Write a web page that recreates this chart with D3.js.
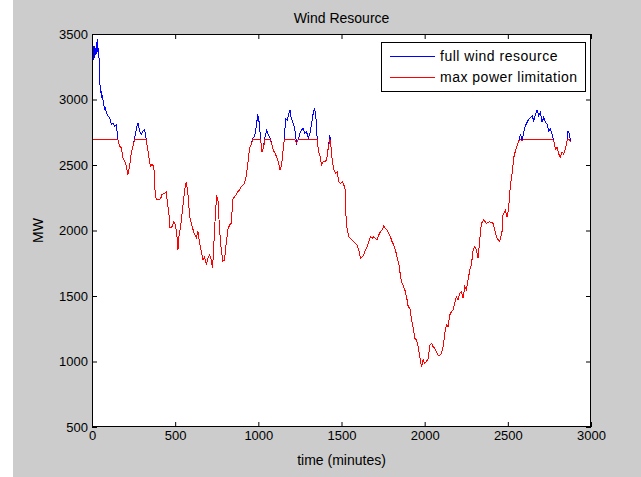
<!DOCTYPE html>
<html>

<head>
  <title>Wind Resource</title>
</head>

<style>
  body,
  html {
    margin: 0;
    padding: 0;
    background: #fff;
  }

  #svg text {
    font-family: "Liberation Sans", Arial, sans-serif;
    fill: #000;
  }
</style>

<body>

  <svg id="svg" width="641" height="477"></svg>

  <script src="https://d3js.org/d3.v7.min.js"></script>
  <script>

    // values (minutes, MW)
    const minutes = [
      0, 4, 8, 12, 16, 20, 24, 28, 32, 36, 40, 44, 48, 52, 56, 60, 62, 68, 72, 76, 80, 86, 96, 106, 116, 126, 136, 146,
      156, 166, 176, 186, 196, 206, 216, 226, 236, 246, 256, 266, 276, 286, 296, 306, 316, 326, 332, 341, 351, 361,
      371, 377, 380, 391, 403, 413, 421, 437, 447, 453, 461, 469, 481, 491, 501, 509, 517, 523, 533, 543, 557, 567,
      577, 587, 597, 607, 617, 627, 637, 647, 657, 667, 677, 687, 697, 707, 717, 725, 733, 741, 749, 757, 767, 777,
      787, 797, 807, 817, 827, 837, 847, 857, 867, 877, 887, 897, 907, 917, 927, 937, 947, 957, 967, 977, 987, 997,
      1006, 1014, 1022, 1030, 1040, 1050, 1060, 1070, 1080, 1090, 1100, 1110, 1120, 1130, 1140, 1150, 1156, 1164,
      1174, 1184, 1190, 1198, 1210, 1220, 1230, 1240, 1250, 1260, 1270, 1280, 1290, 1300, 1310, 1320, 1330, 1338,
      1346, 1354, 1362, 1370, 1380, 1390, 1400, 1410, 1420, 1430, 1436, 1444, 1454, 1464, 1474, 1484, 1494, 1504,
      1514, 1522, 1526, 1534, 1544, 1554, 1564, 1574, 1584, 1594, 1604, 1614, 1624, 1634, 1644, 1654, 1664, 1674,
      1684, 1694, 1704, 1714, 1724, 1734, 1744, 1754, 1764, 1774, 1784, 1794, 1804, 1814, 1824, 1834, 1844, 1854,
      1861, 1871, 1881, 1891, 1901, 1911, 1921, 1931, 1941, 1951, 1961, 1971, 1981, 1991, 2001, 2011, 2021, 2031,
      2041, 2051, 2061, 2071, 2081, 2091, 2101, 2111, 2121, 2131, 2141, 2151, 2161, 2171, 2181, 2191, 2201, 2211,
      2221, 2231, 2241, 2251, 2261, 2271, 2281, 2291, 2301, 2311, 2321, 2331, 2341, 2355, 2371, 2391, 2411, 2421,
      2435, 2451, 2465, 2471, 2485, 2495, 2505, 2511, 2518, 2528, 2536, 2546, 2556, 2566, 2576, 2586, 2596, 2606,
      2616, 2626, 2636, 2646, 2656, 2666, 2676, 2686, 2696, 2706, 2716, 2726, 2736, 2746, 2756, 2766, 2776, 2786,
      2796, 2806, 2816, 2826, 2836, 2846, 2856, 2862, 2871, 2877
    ]

    const windMW = [
      3230, 3380, 3300, 3410, 3320, 3390, 3340, 3420, 3460, 3360, 3390, 3250, 3115, 3050, 3064, 3010, 3034, 2975, 2950,
      2924, 2940, 2899, 2873, 2860, 2809, 2822, 2796, 2809,
      2695, 2644, 2631, 2555, 2530, 2492, 2427, 2492, 2593, 2644, 2708, 2771, 2822, 2758, 2733, 2758, 2771, 2695, 2644,
      2568, 2492, 2504,
      2492, 2390, 2258, 2237, 2237, 2245, 2275, 2284, 2296, 2208, 2148, 2018, 2029, 2067, 2042, 1982, 1855, 1957, 2029,
      2148, 2310, 2373,
      2275, 2106, 2055, 2008, 1970, 1944, 1995, 1906, 1840, 1778, 1800, 1740, 1790, 1815, 1776, 1712, 1906, 2106, 2258,
      2237, 2006, 1855,
      1766, 1775, 1906, 2006, 2042, 2055, 2237, 2258, 2275, 2296, 2310, 2334, 2348, 2360, 2411, 2512, 2629, 2654, 2705,
      2716, 2792, 2885,
      2818, 2695, 2602, 2629, 2716, 2767, 2730, 2705, 2666, 2614, 2590, 2563, 2525, 2462, 2500, 2628, 2695, 2856,
      2843, 2895, 2920, 2856, 2818, 2767, 2666, 2695, 2742, 2767, 2780, 2742, 2754, 2705, 2742, 2818, 2895, 2933,
      2869, 2695, 2602, 2576, 2500, 2525, 2525, 2538, 2628, 2729, 2653, 2538, 2462, 2437, 2449, 2373, 2360, 2373,
      2348, 2310, 2131, 2004, 1953, 1940, 1928, 1915, 1902, 1890, 1851, 1788, 1800, 1813, 1851, 1876, 1915, 1953,
      1940, 1953, 1940, 1928, 1966, 1991, 2004, 2034, 2017, 2004, 1979, 1953, 1915, 1890, 1851, 1800, 1749, 1660,
      1609, 1580, 1546, 1495, 1419, 1406, 1317, 1254, 1177, 1164, 1113, 1037, 960, 1012, 986, 999, 1024, 1126,
      1139, 1113, 1100, 1075, 1049, 1049, 1062, 1113, 1215, 1278, 1266, 1355, 1380, 1393, 1444, 1495, 1469, 1520,
      1533, 1482, 1571, 1546, 1622, 1698, 1737, 1851, 1876, 1851, 1788, 1928, 2055, 2080, 2055, 2067, 2055, 2004,
      1940, 1915, 1991, 2118, 2156, 2106, 2169, 2280, 2368, 2457, 2559, 2610, 2648, 2686, 2737, 2686, 2750, 2801,
      2826, 2851, 2864, 2876, 2838, 2889, 2920, 2876, 2902, 2826, 2864, 2826, 2813, 2762, 2775, 2737, 2686, 2622,
      2635, 2584, 2559, 2597, 2584, 2622, 2686, 2762, 2737, 2673
    ]

    const capMW = 2695

    const xTicks = [0, 500, 1000, 1500, 2000, 2500, 3000]
    const yTicks = [500, 1000, 1500, 2000, 2500, 3000, 3500]
    const legendLabels = ['full wind resource', 'max power limitation']
    const seriesColors = ['#0000ff', '#ff0000']

    const svg = d3.select('#svg')

    // gray figure background
    svg.append('rect')
      .attr('x', 13).attr('y', 0)
      .attr('width', 628).attr('height', 477)
      .attr('fill', '#cccccc')

    const plotLeft = 92, plotRight = 591, plotTop = 34, plotBottom = 427

    svg.append('rect')
      .attr('x', plotLeft).attr('y', plotTop)
      .attr('width', plotRight - plotLeft).attr('height', plotBottom - plotTop)
      .attr('fill', '#fff')

    const xscale = d3.scaleLinear().domain([0, 3000]).range([plotLeft, plotRight])
    const yscale = d3.scaleLinear().domain([500, 3500]).range([plotBottom, plotTop])

    const full = minutes.map((t, i) => ({ t: t, v: windMW[i] }))
    const limited = full.map(d => ({ t: d.t, v: Math.min(d.v, capMW) }))

    const linegen = d3.line()
      .x(d => xscale(d.t))
      .y(d => yscale(d.v))

    // aliased lines like the original plot, red drawn over blue
    svg.append('path')
      .attr('d', linegen(full))
      .attr('stroke', seriesColors[0])
      .attr('stroke-width', 1)
      .attr('shape-rendering', 'crispEdges')
      .attr('fill', 'none')

    svg.append('path')
      .attr('d', linegen(limited))
      .attr('stroke', seriesColors[1])
      .attr('stroke-width', 1)
      .attr('shape-rendering', 'crispEdges')
      .attr('fill', 'none')

    // axes, ticks pointing inward
    const fmt = d3.format('d')
    const gx = svg.append('g')
      .attr('transform', `translate(0,${plotBottom})`)
      .call(d3.axisBottom(xscale).tickValues(xTicks).tickFormat(fmt).tickSize(-5).tickPadding(4))
    const gxTop = svg.append('g')
      .attr('transform', `translate(0,${plotTop})`)
      .call(d3.axisTop(xscale).tickValues(xTicks).tickFormat('').tickSize(-5))
    const gy = svg.append('g')
      .attr('transform', `translate(${plotLeft},0)`)
      .call(d3.axisLeft(yscale).tickValues(yTicks).tickFormat(fmt).tickSize(-5).tickPadding(4))
    const gyRight = svg.append('g')
      .attr('transform', `translate(${plotRight},0)`)
      .call(d3.axisRight(yscale).tickValues(yTicks).tickFormat('').tickSize(-5))

    ;[gx, gxTop, gy, gyRight].forEach(g => {
      g.select('.domain').remove()
      g.selectAll('line').attr('stroke', '#000')
      g.selectAll('text').style('font-size', '13px')
    })

    svg.append('rect')
      .attr('x', plotLeft + 0.5).attr('y', plotTop + 0.5)
      .attr('width', plotRight - plotLeft - 1).attr('height', plotBottom - plotTop - 1)
      .attr('fill', 'none')
      .attr('stroke', '#000')

    // titles
    svg.append('text')
      .attr('x', (plotLeft + plotRight) / 2).attr('y', 23)
      .attr('text-anchor', 'middle')
      .style('font-size', '14px')
      .text('Wind Resource')

    svg.append('text')
      .attr('x', (plotLeft + plotRight) / 2).attr('y', 465)
      .attr('text-anchor', 'middle')
      .style('font-size', '14px')
      .text('time (minutes)')

    svg.append('text')
      .attr('transform', `translate(43,${(plotTop + plotBottom) / 2}) rotate(-90)`)
      .attr('text-anchor', 'middle')
      .style('font-size', '14px')
      .text('MW')

    // legend
    const legend = svg.append('g')
    legend.append('rect')
      .attr('x', 381.5).attr('y', 42.5)
      .attr('width', 204).attr('height', 49)
      .attr('fill', '#fff')
      .attr('stroke', '#000')

    legendLabels.forEach((label, i) => {
      const y = 56 + i * 21
      legend.append('line')
        .attr('x1', 390).attr('x2', 435)
        .attr('y1', y + 0.5).attr('y2', y + 0.5)
        .attr('stroke', seriesColors[i])
      legend.append('text')
        .attr('x', 440).attr('y', y + 5)
        .style('font-size', '14px')
        .style('letter-spacing', '0.5px')
        .text(label)
    })

  </script>

</body>

</html>
